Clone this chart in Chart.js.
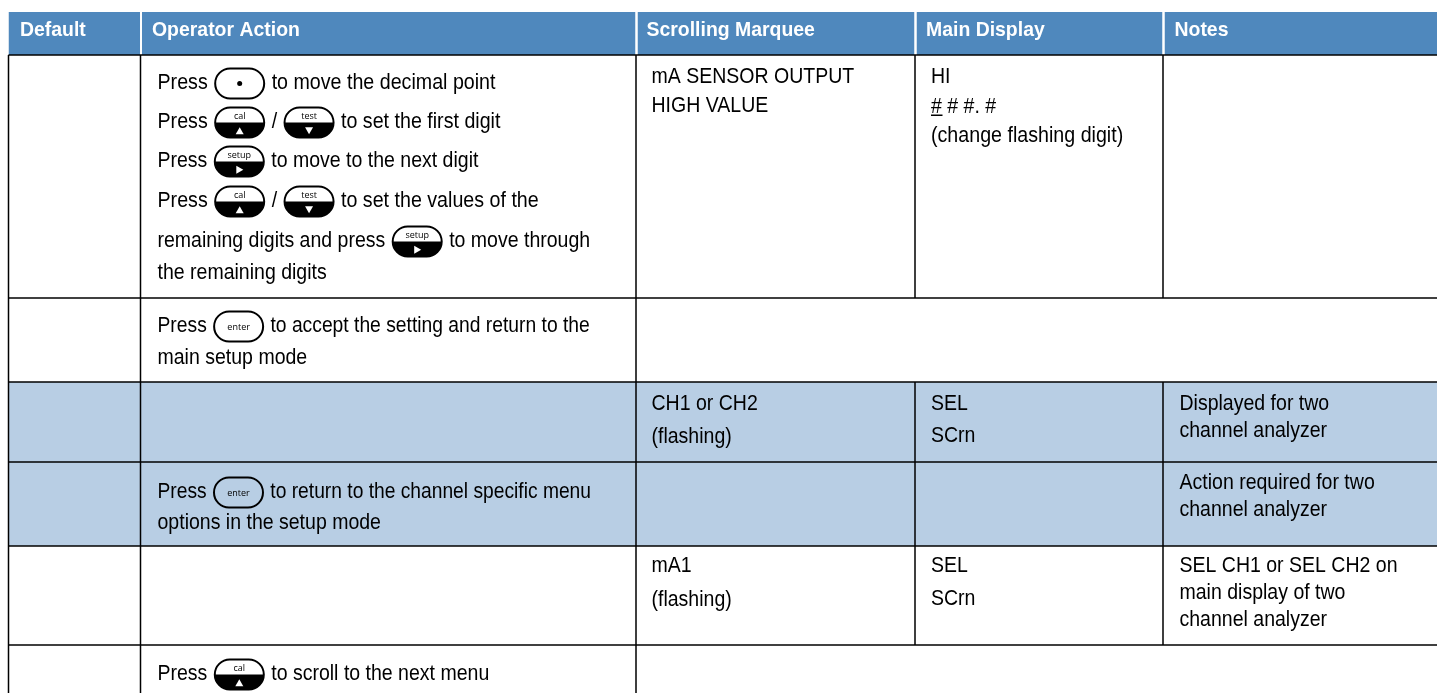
<!DOCTYPE html>
<html>
<head>
<meta charset="utf-8">
<script src="https://cdn.jsdelivr.net/npm/chart.js@4"></script>
<style>
  html, body { margin: 0; padding: 0; background: #fff; overflow: hidden; }
  canvas { display: block; }
</style>
</head>
<body>
<canvas id="table" width="1437" height="693"></canvas>
<script>
// column and row edges of the table
const colEdges = [8.5, 140.5, 636, 915, 1163, 1437];
const rowEdges = [12, 55, 298, 382, 462, 546, 645, 693];
const headers = ["Default", "Operator Action", "Scrolling Marquee", "Main Display", "Notes"];
const shadedRows = [3, 4];
const mergedRows = [2, 6];

const headerColor = "#4f88bd";
const shadeColor = "#b8cee4";
const lineColor = "#000000";

// [column, baseline, text, optional squeeze] - {name} is a keypad button in the flow of the text
const cellLines = [
  [1, 89, "Press {dot} to move the decimal point", 0.893],
  [1, 128, "Press {cal} / {test} to set the first digit", 0.893],
  [1, 167, "Press {setup} to move to the next digit"],
  [1, 207, "Press {cal} / {test} to set the values of the", 0.893],
  [1, 247, "remaining digits and press {setup} to move through"],
  [1, 279, "the remaining digits"],
  [2, 83, "mA SENSOR OUTPUT"],
  [2, 112, "HIGH VALUE"],
  [3, 83, "HI"],
  [3, 113, "# # #. #"],
  [3, 142, "(change flashing digit)", 0.893],
  [1, 332, "Press {enter} to accept the setting and return to the", 0.876],
  [1, 364, "main setup mode"],
  [2, 410, "CH1 or CH2"],
  [2, 443, "(flashing)"],
  [3, 410, "SEL"],
  [3, 442, "SCrn"],
  [4, 410, "Displayed for two"],
  [4, 437, "channel analyzer"],
  [1, 498, "Press {enter} to return to the channel specific menu", 0.874],
  [1, 529, "options in the setup mode"],
  [4, 489, "Action required for two"],
  [4, 516, "channel analyzer"],
  [2, 572, "mA1"],
  [2, 606, "(flashing)"],
  [3, 572, "SEL"],
  [3, 605, "SCrn"],
  [4, 572, "SEL CH1 or SEL CH2 on"],
  [4, 599, "main display of two"],
  [4, 626, "channel analyzer"],
  [1, 680, "Press {cal} to scroll to the next menu"],
];
const cellX = [20, 157.5, 651.5, 931, 1179.5];
const headerX = [20, 152, 646.5, 926, 1174.5];

const keyLabels = { dot: "", cal: "cal", test: "test", setup: "setup", enter: "enter" };
const keyMarks = { cal: "up", test: "down", setup: "right" };

const bodyFont = "22px 'Liberation Sans'";
const headFont = "bold 21px 'Liberation Sans'";
const bodySqueeze = 0.887;
const headSqueeze = 0.925;

const datasets = [];

function band(x0, x1, top, bottom, color) {
  datasets.push({
    data: [{ x: x0, y: top }, { x: x1, y: top }],
    showLine: true,
    fill: { value: bottom },
    backgroundColor: color,
    borderWidth: 0,
    pointRadius: 0,
    order: 2,
  });
}

function rule(x0, y0, x1, y1) {
  datasets.push({
    data: [{ x: x0, y: y0 }, { x: x1, y: y1 }],
    showLine: true,
    fill: false,
    borderColor: lineColor,
    borderWidth: 1.5,
    pointRadius: 0,
    order: 1,
  });
}

// header cells, with a white gap between them
headers.forEach((h, i) => {
  band(colEdges[i] + (i ? 1.5 : 0), colEdges[i + 1] - (i < 4 ? 0.5 : 0), rowEdges[0], rowEdges[1], headerColor);
});
shadedRows.forEach((r) => band(colEdges[0], colEdges[5], rowEdges[r], rowEdges[r + 1], shadeColor));

// horizontal rules under the header and each row
rowEdges.slice(1, -1).forEach((y) => rule(colEdges[0], y, colEdges[5], y));

// column rules, the later columns are merged in some rows
for (let r = 1; r < rowEdges.length - 1; r++) {
  const top = rowEdges[r];
  const bottom = rowEdges[r + 1];
  rule(colEdges[0], top, colEdges[0], bottom);
  rule(colEdges[1], top, colEdges[1], bottom);
  rule(colEdges[2], top, colEdges[2], bottom);
  if (!mergedRows.includes(r)) {
    rule(colEdges[3], top, colEdges[3], bottom);
    rule(colEdges[4], top, colEdges[4], bottom);
  }
}

function drawKey(ctx, name, left, baseline) {
  const w = 51;
  const h = 32;
  const top = baseline - 21.5;
  const filled = name in keyMarks;
  ctx.save();
  ctx.beginPath();
  ctx.roundRect(left + 1, top + 1, w - 2, h - 2, 15);
  if (filled) {
    ctx.save();
    ctx.clip();
    ctx.fillStyle = "#fff";
    ctx.fillRect(left, top, w, h);
    ctx.fillStyle = "#000";
    ctx.fillRect(left, top + h * 0.5, w, h * 0.5);
    ctx.restore();
    ctx.beginPath();
    ctx.roundRect(left + 1, top + 1, w - 2, h - 2, 15);
  }
  ctx.lineWidth = 2;
  ctx.strokeStyle = "#000";
  ctx.stroke();

  const cx = left + w / 2;
  ctx.fillStyle = "#000";
  if (name === "dot") {
    ctx.beginPath();
    ctx.arc(cx, top + h / 2, 2.5, 0, Math.PI * 2);
    ctx.fill();
  } else {
    ctx.font = "9px 'Open Sans'";
    ctx.textAlign = "center";
    ctx.fillText(keyLabels[name], cx, filled ? top + 12.5 : top + 19);
  }
  const my = top + h * 0.76;
  ctx.fillStyle = "#fff";
  ctx.beginPath();
  if (keyMarks[name] === "up") {
    ctx.moveTo(cx - 4, my + 3.5); ctx.lineTo(cx + 4, my + 3.5); ctx.lineTo(cx, my - 3.5);
  } else if (keyMarks[name] === "down") {
    ctx.moveTo(cx - 4, my - 3.5); ctx.lineTo(cx + 4, my - 3.5); ctx.lineTo(cx, my + 3.5);
  } else if (keyMarks[name] === "right") {
    ctx.moveTo(cx - 3, my - 4); ctx.lineTo(cx - 3, my + 4); ctx.lineTo(cx + 4, my);
  }
  ctx.fill();
  ctx.restore();
}

function drawText(ctx, text, x, y, squeeze) {
  ctx.save();
  ctx.translate(x, y);
  ctx.scale(squeeze, 1);
  ctx.fillText(text, 0, 0);
  ctx.restore();
  return ctx.measureText(text).width * squeeze;
}

const tablePlugin = {
  id: "tableText",
  afterDatasetsDraw(chart) {
    const { ctx, scales } = chart;
    const px = (v) => scales.x.getPixelForValue(v);
    const py = (v) => scales.y.getPixelForValue(v);
    ctx.save();
    ctx.textBaseline = "alphabetic";

    ctx.fillStyle = "#fff";
    ctx.font = headFont;
    headers.forEach((h, i) => drawText(ctx, h, px(headerX[i]), py(36), headSqueeze));

    cellLines.forEach(([col, base, text, squeeze]) => {
      ctx.font = bodyFont;
      ctx.fillStyle = "#000";
      const startX = px(cellX[col]);
      let x = startX;
      const y = py(base);
      text.split(/(\{\w+\})/).forEach((part) => {
        const key = part.match(/^\{(\w+)\}$/);
        if (key) {
          x += 1;
          drawKey(ctx, key[1], x, y);
          ctx.font = bodyFont;
          ctx.fillStyle = "#000";
          x += 52;
        } else if (part) {
          x += drawText(ctx, part, x, y, squeeze || bodySqueeze);
        }
      });
      // flashing digit is underlined
      if (text.startsWith("# # #")) {
        ctx.fillRect(startX, y + 1.5, 11.5, 1.5);
      }
    });
    ctx.restore();
  },
};

new Chart(document.getElementById("table"), {
  type: "scatter",
  data: { datasets },
  options: {
    responsive: false,
    animation: false,
    events: [],
    layout: { padding: 0 },
    plugins: { legend: { display: false }, tooltip: { enabled: false } },
    scales: {
      x: { type: "linear", min: 0, max: 1437, display: false },
      y: { type: "linear", min: 0, max: 693, reverse: true, display: false },
    },
  },
  plugins: [tablePlugin],
});
</script>
</body>
</html>
